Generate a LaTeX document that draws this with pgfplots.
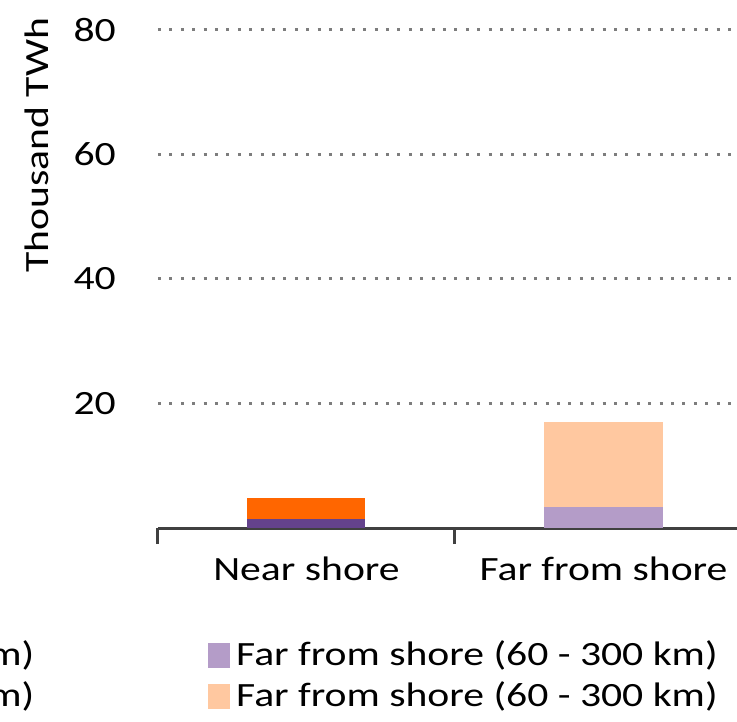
\documentclass[border=0pt]{standalone}
\usepackage{pgfplots}
\pgfplotsset{compat=1.18}
\usepackage{fontspec}
\setmainfont{Carlito}[FakeStretch=1.225]

\definecolor{nearA}{RGB}{100,66,140}
\definecolor{nearB}{RGB}{255,102,0}
\definecolor{farA}{RGB}{180,156,200}
\definecolor{farB}{RGB}{255,200,160}
\definecolor{axisgray}{RGB}{64,64,64}
\definecolor{gridgray}{RGB}{125,125,125}

\begin{document}
\begin{tikzpicture}[font=\fontsize{17}{20}\selectfont]
\begin{scope}
% visible window of the chart
\clip (-79pt,-96.5pt) rectangle (289.5pt,264pt);
\begin{axis}[
  font=\fontsize{17}{20}\selectfont,
  /pgf/number format/assume math mode=true,
  scale only axis,
  width=297pt, height=249pt,
  xmin=-0.5, xmax=1.5,
  ymin=0, ymax=80,
  ybar stacked,
  bar width=59pt,
  axis x line=bottom,
  axis y line=left,
  x axis line style={-, line width=1.5pt, color=axisgray},
  y axis line style={draw=none},
  xtick={-0.5,0.5,1.5},
  x tick label as interval,
  xticklabels={Near shore, Far from shore},
  xtick style={line width=1.5pt, color=axisgray},
  xtick align=outside,
  major tick length=8pt,
  xticklabel style={yshift=-3pt},
  ytick={20,40,60,80},
  ytick style={draw=none},
  yticklabel style={xshift=-13.6pt},
  ymajorgrids,
  major grid style={line width=1.5pt, color=gridgray, dash pattern=on 1.5pt off 4.2pt},
  ylabel={Thousand TWh},
  ylabel style={at={(axis description cs:-0.2037,0.769)}, anchor=center},
  legend columns=2,
  legend style={draw=none, fill=none, inner sep=0pt,
    at={(axis description cs:0.9529,-0.215)}, anchor=north east,
    nodes={inner xsep=3pt, inner ysep=2pt, text height=13pt, text depth=3.5pt},
    /tikz/every even column/.append style={column sep=84pt}},
  legend image code/.code={\path[#1,draw=none] (0pt,-6.25pt) rectangle (11pt,6.25pt);},
]
\addplot[fill=nearA, draw=none] coordinates {(0,1.45) (1,0)};
\addlegendentry{Near shore (0 - 60 km)}
\addplot[fill=farA, draw=none] coordinates {(0,0) (1,3.4)};
\addlegendentry{Far from shore (60 - 300 km)}
\addplot[fill=nearB, draw=none] coordinates {(0,3.35) (1,0)};
\addlegendentry{Near shore (0 - 60 km)}
\addplot[fill=farB, draw=none] coordinates {(0,0) (1,13.6)};
\addlegendentry{Far from shore (60 - 300 km)}
\end{axis}
\end{scope}
\pgfresetboundingbox
\path[use as bounding box] (-79pt,-96.5pt) rectangle (289.5pt,264pt);
\end{tikzpicture}
\end{document}
